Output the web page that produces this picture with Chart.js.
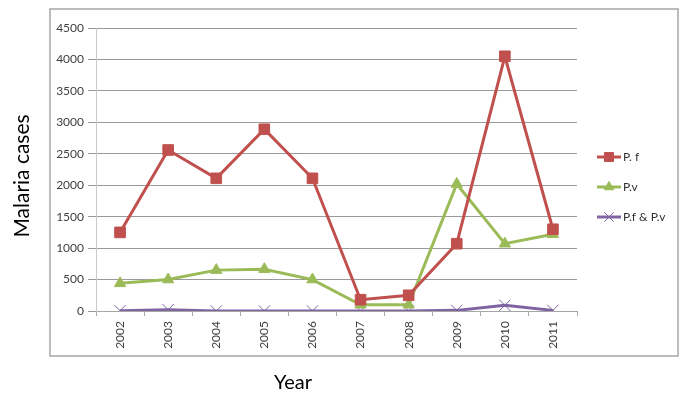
<!DOCTYPE html>
<html>
<head>
<meta charset="utf-8">
<script src="https://cdn.jsdelivr.net/npm/chart.js@4"></script>
<style>
  html, body { margin: 0; padding: 0; background: #fff; }
  #wrap { width: 685px; height: 397px; }
</style>
</head>
<body>
<div id="wrap"><canvas id="myChart" width="685" height="397"></canvas></div>
<script>
const years = ['2002', '2003', '2004', '2005', '2006', '2007', '2008', '2009', '2010', '2011'];
const pfCases = [1250, 2560, 2110, 2890, 2110, 180, 250, 1070, 4050, 1300];
const pvCases = [440, 500, 650, 665, 500, 100, 100, 2020, 1070, 1220];
const mixedCases = [5, 20, 0, 0, 0, 0, 0, 10, 90, 10];
const yTicks = [0, 500, 1000, 1500, 2000, 2500, 3000, 3500, 4000, 4500];

const labelFont = 'Lato, "Open Sans", sans-serif';

// frame, axis titles and the legend are drawn by hand
const decorPlugin = {
    id: 'decor',
    beforeDraw(chart) {
        const ctx = chart.ctx;
        ctx.save();
        ctx.fillStyle = '#fff';
        ctx.fillRect(0, 0, chart.width, chart.height);
        ctx.strokeStyle = '#a6a6a6';
        ctx.lineWidth = 1.5;
        ctx.strokeRect(50, 9, 628, 347);
        ctx.restore();
    },
    afterDraw(chart) {
        const ctx = chart.ctx;
        ctx.save();
        ctx.fillStyle = '#000';
        ctx.font = '20px ' + labelFont;
        ctx.textAlign = 'center';
        ctx.textBaseline = 'middle';
        ctx.fillText('Year', 293, 383);
        ctx.translate(22, 176);
        ctx.rotate(-Math.PI / 2);
        ctx.font = '21px ' + labelFont;
        ctx.fillText('Malaria cases', 0, 0);
        ctx.restore();

        // legend
        ctx.save();
        ctx.font = '12px ' + labelFont;
        ctx.textAlign = 'left';
        ctx.textBaseline = 'middle';
        chart.data.datasets.forEach((ds, i) => {
            const y = 157 + i * 30;
            ctx.strokeStyle = ds.borderColor;
            ctx.lineWidth = 3;
            ctx.beginPath();
            ctx.moveTo(597, y);
            ctx.lineTo(621, y);
            ctx.stroke();
            ctx.fillStyle = ds.backgroundColor;
            ctx.lineWidth = 1;
            Chart.helpers.drawPoint(ctx, {
                pointStyle: ds.pointStyle,
                radius: ds.pointRadius * 0.85,
                rotation: 0,
                borderWidth: ds.pointBorderWidth || 1
            }, 609, y);
            ctx.fillStyle = '#333';
            ctx.fillText(ds.label, 623, y);
        });
        ctx.restore();
    }
};

const ctx = document.getElementById('myChart').getContext('2d');
new Chart(ctx, {
    type: 'line',
    data: {
        labels: years,
        datasets: [
            {
                label: 'P. f',
                data: pfCases,
                borderColor: '#C0504D',
                backgroundColor: '#C0504D',
                borderWidth: 3,
                pointStyle: 'rect',
                pointRadius: 7.5,
                pointBorderWidth: 1,
                tension: 0
            },
            {
                label: 'P.v',
                data: pvCases,
                borderColor: '#9BBB59',
                backgroundColor: '#9BBB59',
                borderWidth: 3,
                pointStyle: 'triangle',
                pointRadius: 6.5,
                pointBorderWidth: 1,
                tension: 0
            },
            {
                label: 'P.f & P.v',
                data: mixedCases,
                borderColor: '#8064A2',
                backgroundColor: '#8064A2',
                borderWidth: 3,
                pointStyle: 'crossRot',
                pointRadius: 8,
                pointBorderWidth: 1,
                tension: 0
            }
        ]
    },
    options: {
        responsive: false,
        animation: false,
        layout: { padding: { left: 0, right: 108, top: 28, bottom: 0 } },
        plugins: {
            legend: { display: false },
            tooltip: { enabled: false }
        },
        scales: {
            x: {
                offset: true,
                afterFit: (scale) => { scale.height = 86; },
                grid: {
                    offset: true,
                    drawOnChartArea: false,
                    drawTicks: true,
                    tickLength: 5,
                    tickColor: '#a6a6a6'
                },
                border: { color: '#a6a6a6', width: 1 },
                ticks: {
                    minRotation: 90,
                    maxRotation: 90,
                    padding: 5,
                    color: '#404040',
                    font: { family: labelFont, size: 12 }
                }
            },
            y: {
                min: 0,
                max: 4500,
                afterFit: (scale) => { scale.width = 96; },
                afterBuildTicks: (scale) => { scale.ticks = yTicks.map(v => ({ value: v })); },
                grid: {
                    color: '#9a9a9a',
                    tickColor: '#9a9a9a',
                    tickLength: 8,
                    lineWidth: 1
                },
                border: { color: '#c8c8c8', width: 1 },
                ticks: {
                    padding: 4,
                    color: '#404040',
                    font: { family: labelFont, size: 12 },
                    callback: (value) => String(value)
                }
            }
        }
    },
    plugins: [decorPlugin]
});
</script>
</body>
</html>
